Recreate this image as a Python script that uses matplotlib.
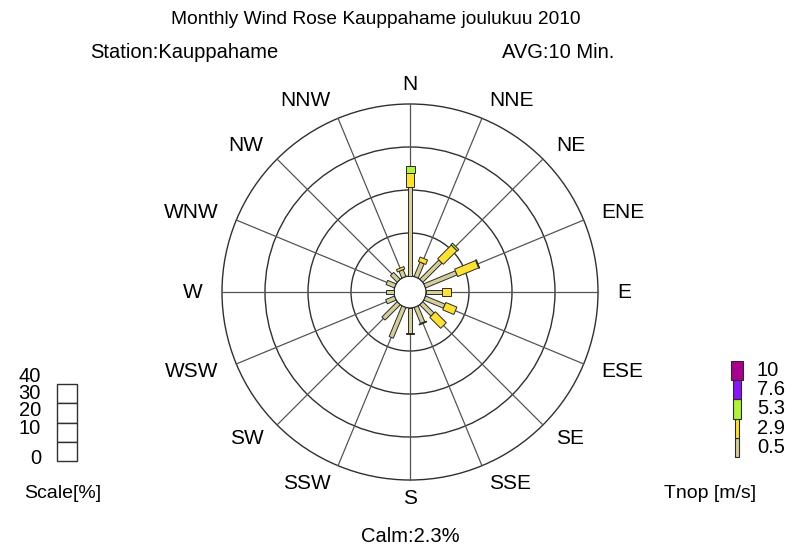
import numpy as np
import matplotlib
matplotlib.use("Agg")
import matplotlib.pyplot as plt
from matplotlib.patches import Polygon, Circle, Rectangle

plt.rcParams['font.family'] = ['Liberation Sans', 'DejaVu Sans']

# wind directions, clockwise from north
directions = ['N', 'NNE', 'NE', 'ENE', 'E', 'ESE', 'SE', 'SSE',
              'S', 'SSW', 'SW', 'WSW', 'W', 'WNW', 'NW', 'NNW']

# speed classes (lower limit, m/s) and their colours
speed_labels = ['0.5', '2.9', '5.3', '7.6', '10']
speed_colors = ['#D4CE98', '#FFE134', '#AEF23C', '#8C14FA', '#A8008C']

# frequency [%] per direction for each speed class
freq_05 = [20.6, 3.6, 6.3, 7.9, 3.7, 4.9, 3.7, 4.0, 5.7, 7.7, 5.0, 2.2, 1.9, 2.1, 2.2, 1.7]
freq_29 = [3.4, 1.1, 4.5, 5.3, 2.1, 2.8, 3.6, 0.2, 0.35, 0, 0, 0, 0, 0, 0, 0.6]
freq_53 = [1.6, 0, 0.5, 0.2, 0, 0, 0, 0, 0, 0, 0, 0, 0, 0, 0, 0]
freq_76 = [0] * 16
freq_10 = [0] * 16
freqs = [freq_05, freq_29, freq_53, freq_76, freq_10]

ring_values = [10, 20, 30, 40]
scale_labels = ['40', '30', '20', '10', '0']
calm = 2.3

W, H = 788, 552
PX = 4.3            # pixels per percent
R0 = 16 / PX        # calm circle radius in percent units
seg_width_px = [4.5, 8, 9, 9, 12]
legend_width_px = [4, 4, 8, 8, 12]

fig = plt.figure(figsize=(W / 100, H / 100), dpi=100)

# rose axes, square, centred on the rose
cx, cy, half = 410, 292, 250
ax = fig.add_axes([(cx - half) / W, (H - cy - half) / H, 2 * half / W, 2 * half / H])
lim = half / PX
ax.set_xlim(-lim, lim)
ax.set_ylim(-lim, lim)
ax.set_aspect('equal')
ax.axis('off')

rmax = R0 + ring_values[-1]
for v in ring_values:
    ax.add_patch(Circle((0, 0), R0 + v, fill=False, ec='#303030', lw=1.0, zorder=1))
for i in range(16):
    th = np.deg2rad(i * 22.5)
    ax.plot([R0 * np.sin(th), rmax * np.sin(th)], [R0 * np.cos(th), rmax * np.cos(th)],
            color='#555555', lw=0.9, zorder=1)
ax.add_patch(Circle((0, 0), R0, fc='white', ec='#202020', lw=0.9, zorder=2))

# stacked bars, one rectangle per speed class
for d in range(16):
    th = np.deg2rad(d * 22.5)
    u = np.array([np.sin(th), np.cos(th)])
    p = np.array([np.cos(th), -np.sin(th)])
    start = R0
    for k, f in enumerate(freqs):
        v = f[d]
        if v <= 0:
            continue
        end = start + v
        hw = seg_width_px[k] / PX / 2
        pts = [start * u + hw * p, end * u + hw * p, end * u - hw * p, start * u - hw * p]
        ax.add_patch(Polygon(pts, closed=True, fc=speed_colors[k], ec='#2a2a2a',
                             lw=0.7, zorder=3 + k))
        start = end

# direction labels
lab_r = 207 / PX
for i, name in enumerate(directions):
    ang = i * 22.5
    th = np.deg2rad(ang)
    if ang in (0, 180):
        ha = 'center'
    elif ang < 180:
        ha = 'left'
    else:
        ha = 'right'
    ax.text(lab_r * np.sin(th), lab_r * np.cos(th), name, ha=ha, va='center',
            fontsize=15, color='black')

# overlay in pixel coordinates for titles and legends
ov = fig.add_axes([0, 0, 1, 1], facecolor='none')
ov.set_xlim(0, W)
ov.set_ylim(H, 0)
ov.axis('off')

ov.text(376, 20, 'Monthly Wind Rose Kauppahame joulukuu 2010', ha='center', va='center', fontsize=13.8)
ov.text(90, 52, 'Station:Kauppahame', ha='left', va='center', fontsize=14.5)
ov.text(502, 52, 'AVG:10 Min.', ha='left', va='center', fontsize=14.5)
ov.text(410, 537, 'Calm:%.1f%%' % calm, ha='center', va='center', fontsize=14.5)

# percentage scale boxes
box_top, box_h = 384, 19.25
for i in range(len(ring_values)):
    ov.add_patch(Rectangle((57, box_top + i * box_h), 20, box_h, fc='white', ec='#303030', lw=1.0))
for i, s in enumerate(scale_labels):
    y = 376 + i * 17.5 if i < 4 else 458
    ov.text(41, y, s, ha='right', va='center', fontsize=14.5)
ov.text(63, 493, 'Scale[%]', ha='center', va='center', fontsize=14)

# speed class legend
seg_h = 19.2
leg_bottom = 457
for k, (lab, col) in enumerate(zip(speed_labels, speed_colors)):
    y0 = leg_bottom - (k + 1) * seg_h
    w = legend_width_px[k]
    ov.add_patch(Rectangle((737.5 - w / 2, y0), w, seg_h, fc=col, ec='#2a2a2a', lw=0.8))
    ov.text(757, y0 + seg_h / 2, lab, ha='left', va='center', fontsize=14.5)
ov.text(710, 493, 'Tnop [m/s]', ha='center', va='center', fontsize=14)

fig.savefig('out.png', dpi=100, facecolor='white')
